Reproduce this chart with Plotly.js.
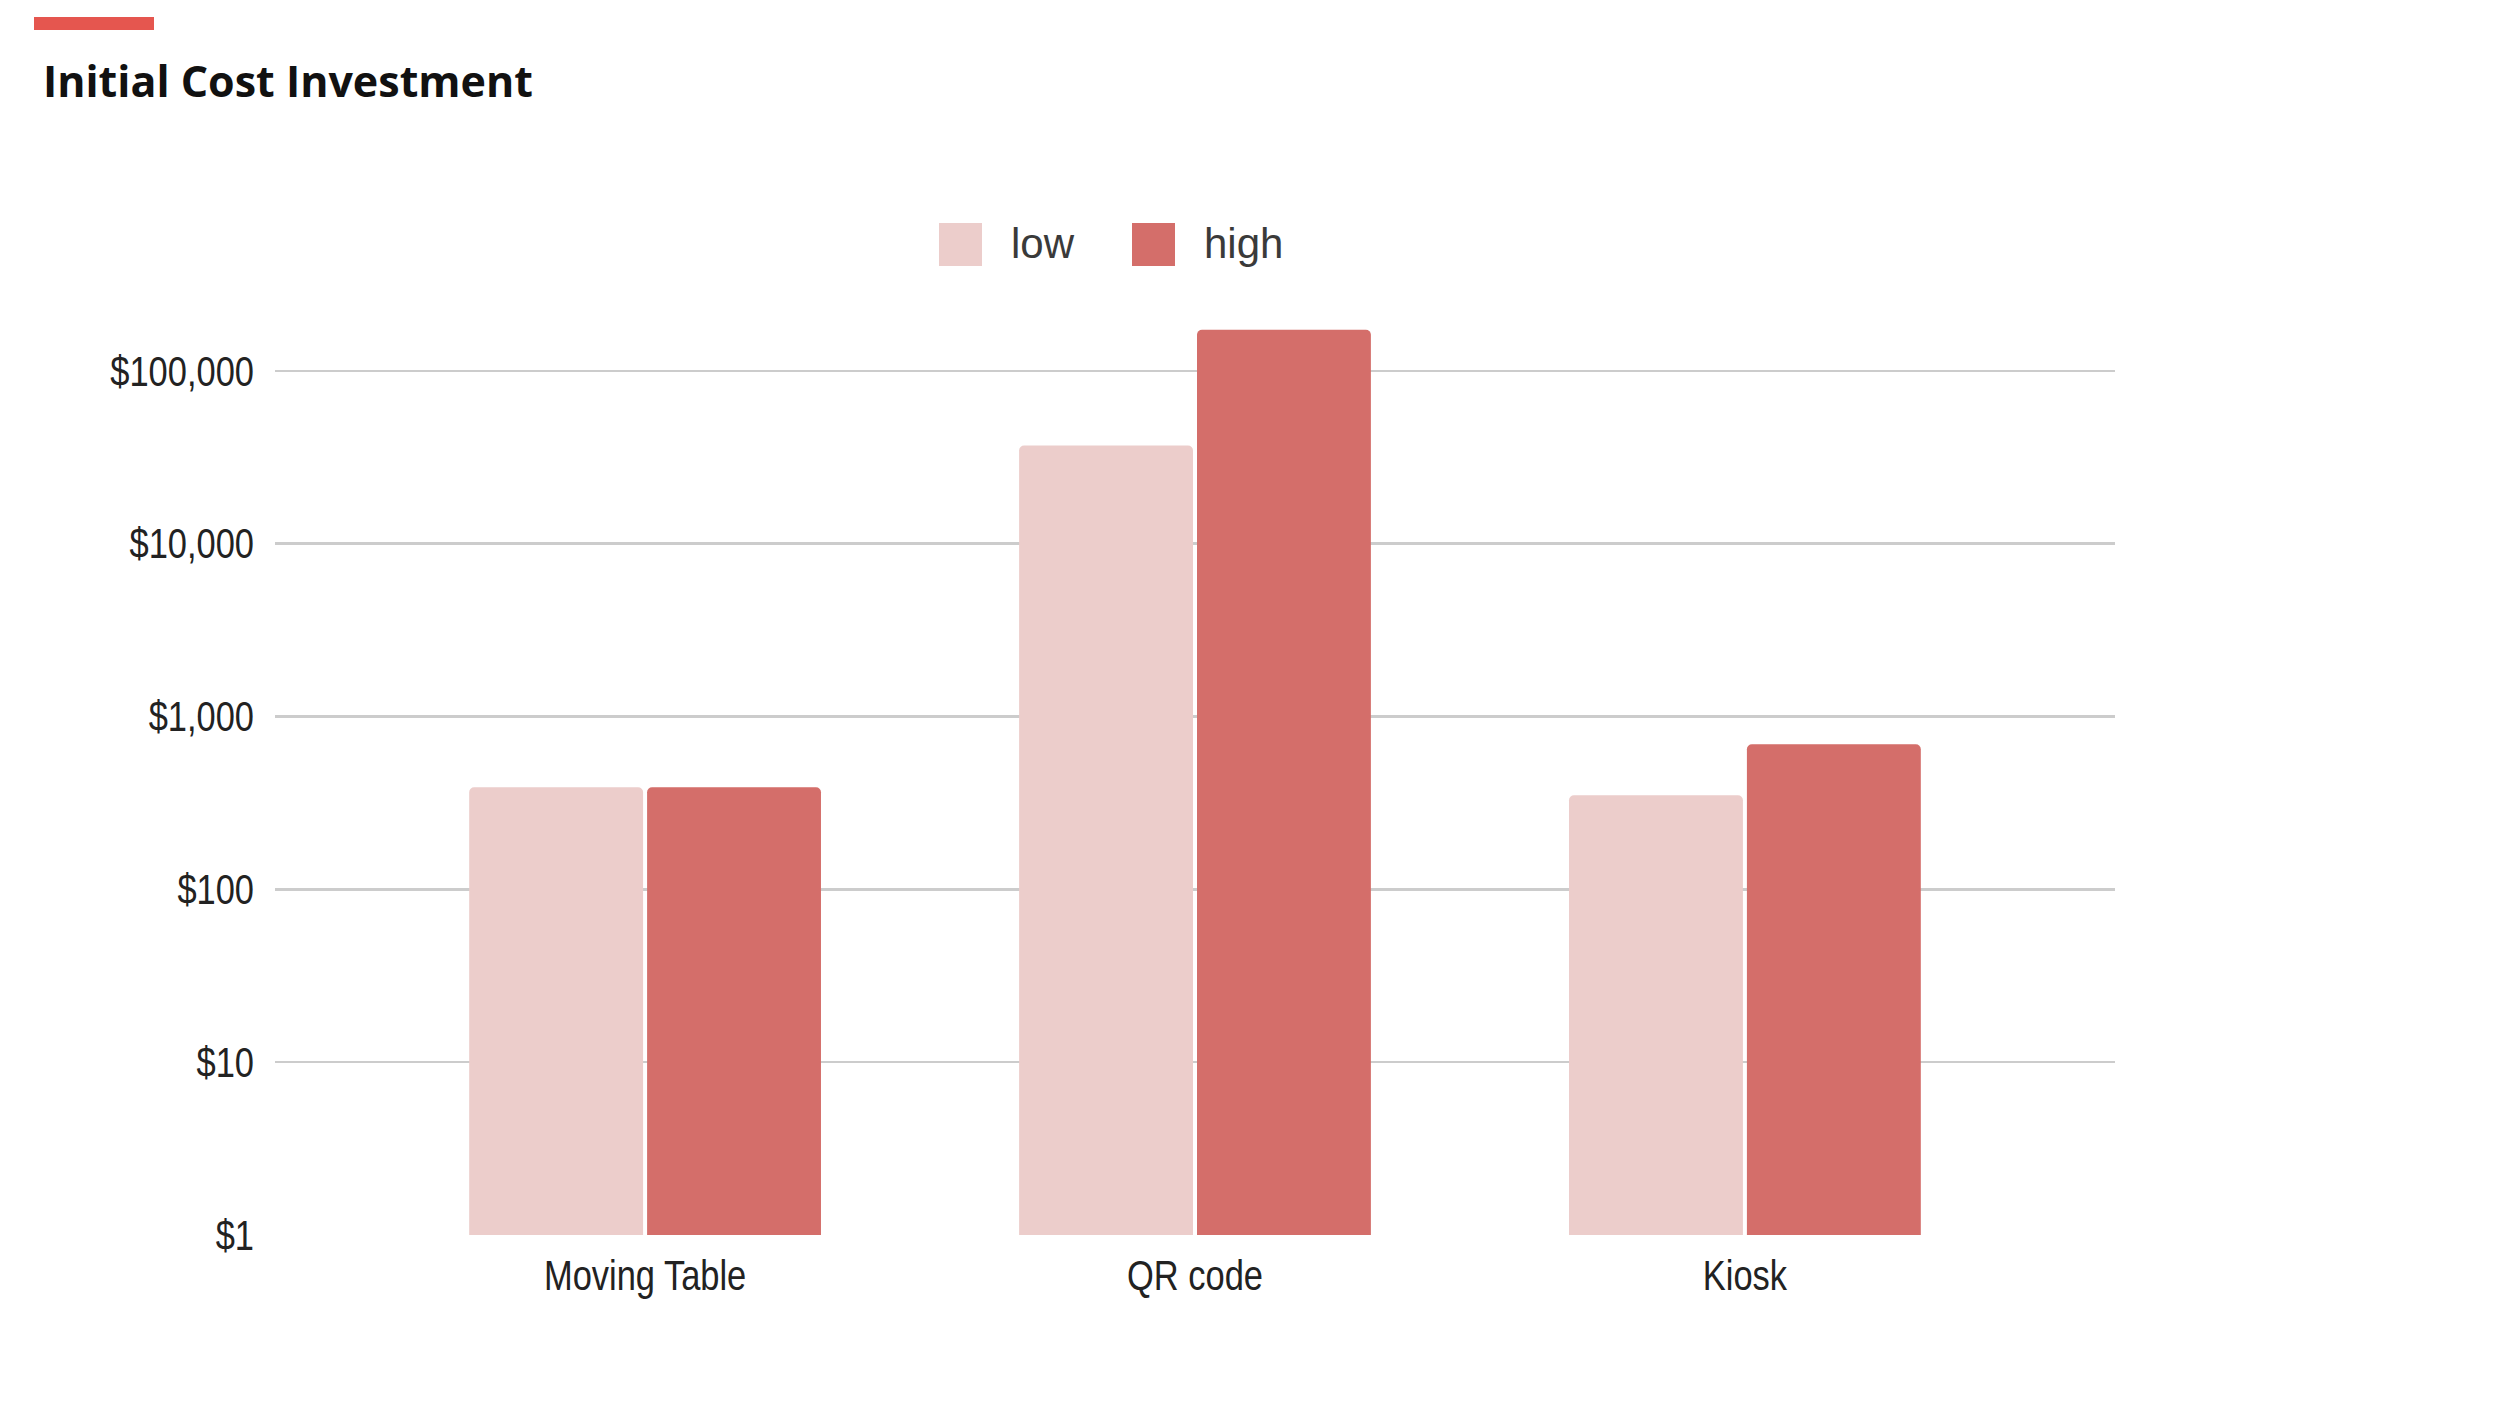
<!DOCTYPE html>
<html>
<head>
<meta charset="utf-8">
<script src="https://cdn.plot.ly/plotly-3.0.1.min.js"></script>
<style>html,body{margin:0;padding:0;background:#fff;}#chart{width:2500px;height:1406px;}</style>
</head>
<body>
<div id="chart"></div>
<script>
const categories = ['Moving Table', 'QR code', 'Kiosk'];
const lowValues = [390, 37000, 350];
const highValues = [390, 173000, 690];
const seriesNames = ['low', 'high'];
const tickValues = [1, 10, 100, 1000, 10000, 100000];
const tickLabels = ['$1', '$10', '$100', '$1,000', '$10,000', '$100,000'];
const titleText = 'Initial Cost Investment';

const W = 2500, H = 1406;
const L = 275, R = 385, T = 319, B = 171;
const PW = W - L - R, PH = H - T - B;
const px = v => (v - L) / PW;
const py = v => (H - B - v) / PH;

const lowColor = '#eccdcb';
const highColor = '#d46e6a';
const axisFont = "'Liberation Sans', Arial, sans-serif";

const traces = [
  {type: 'bar', name: seriesNames[0], x: categories, y: lowValues, marker: {color: lowColor}, showlegend: false},
  {type: 'bar', name: seriesNames[1], x: categories, y: highValues, marker: {color: highColor}, showlegend: false}
];

const layout = {
  width: W, height: H,
  margin: {l: L, r: R, t: T, b: B, pad: 0},
  paper_bgcolor: '#ffffff', plot_bgcolor: '#ffffff',
  barmode: 'group', bargap: 0.353, bargroupgap: 0.0225, barcornerradius: 5,
  title: {text: '<b>' + titleText + '</b>', xref: 'container', yref: 'container', x: 43 / W, xanchor: 'left', y: 1 - 82 / H, yanchor: 'middle',
          font: {family: "'Open Sans', sans-serif", size: 43, color: '#111111'}},
  xaxis: {type: 'category', range: [-0.673, 2.673], showgrid: false, zeroline: false, showline: false, ticks: '',
          tickfont: {family: axisFont, size: 42, color: '#222222'}, ticklabelstandoff: 12},
  yaxis: {type: 'log', range: [0, 5.3], tickmode: 'array', tickvals: tickValues, ticktext: tickLabels,
          showgrid: true, gridcolor: '#cccccc', gridwidth: 2.5, zeroline: false, showline: false, ticks: '',
          tickfont: {family: axisFont, size: 42, color: '#222222'}, ticklabelstandoff: 20},
  showlegend: false,
  shapes: [
    {type: 'rect', xref: 'paper', yref: 'paper', x0: px(34), x1: px(154), y0: py(17), y1: py(30), fillcolor: '#e5564f', line: {width: 0}},
    {type: 'rect', xref: 'paper', yref: 'paper', x0: px(939), x1: px(982), y0: py(223), y1: py(266), fillcolor: lowColor, line: {width: 0}},
    {type: 'rect', xref: 'paper', yref: 'paper', x0: px(1132), x1: px(1175), y0: py(223), y1: py(266), fillcolor: highColor, line: {width: 0}}
  ],
  annotations: [
    {xref: 'paper', yref: 'paper', x: px(1009), y: py(244), xanchor: 'left', yanchor: 'middle', showarrow: false, text: seriesNames[0],
     font: {family: "'Liberation Sans', Arial, sans-serif", size: 42, color: '#3a3a3a'}},
    {xref: 'paper', yref: 'paper', x: px(1202), y: py(244), xanchor: 'left', yanchor: 'middle', showarrow: false, text: seriesNames[1],
     font: {family: "'Liberation Sans', Arial, sans-serif", size: 42, color: '#3a3a3a'}}
  ]
};

// The reference uses a condensed face for axis labels; narrow the tick text horizontally.
function condenseTicks() {
  document.querySelectorAll('#chart .xtick text, #chart .ytick text').forEach(t => {
    if (t.getAttribute('data-condensed')) return;
    const len = t.getComputedTextLength();
    if (len > 0) {
      t.setAttribute('textLength', (len * 0.82).toFixed(1));
      t.setAttribute('lengthAdjust', 'spacingAndGlyphs');
      t.setAttribute('data-condensed', '1');
    }
  });
}

Plotly.newPlot('chart', traces, layout, {staticPlot: true, displayModeBar: false}).then(gd => {
  condenseTicks();
  gd.on('plotly_afterplot', condenseTicks);
});
</script>
</body>
</html>
